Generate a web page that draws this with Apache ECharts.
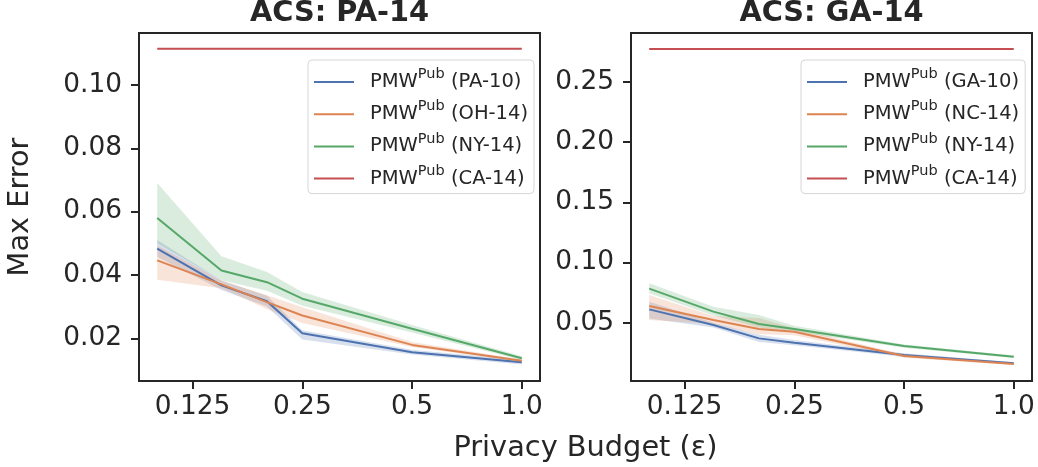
<!DOCTYPE html>
<html><head><meta charset="utf-8">
<script src="https://cdn.jsdelivr.net/npm/echarts@6/dist/echarts.min.js"></script>
<style>html,body{margin:0;padding:0;background:#fff}#c{width:1038px;height:467px}</style>
</head><body><div id="c"></div>
<script>
// ---- data ----
const epsilons = [0.1, 0.15, 0.2, 0.25, 0.5, 1.0];
const xTicks = [0.125, 0.25, 0.5, 1.0];
const xTickLabels = ['0.125', '0.25', '0.5', '1.0'];
const leftYTicks = [0.02, 0.04, 0.06, 0.08, 0.10];
const leftYTickLabels = ['0.02', '0.04', '0.06', '0.08', '0.10'];
const rightYTicks = [0.05, 0.10, 0.15, 0.20, 0.25];
const rightYTickLabels = ['0.05', '0.10', '0.15', '0.20', '0.25'];
const panelTitles = ['ACS: PA-14', 'ACS: GA-14'];
const leftNames = ['PA-10', 'OH-14', 'NY-14', 'CA-14'];
const rightNames = ['GA-10', 'NC-14', 'NY-14', 'CA-14'];
const xLabel = 'Privacy Budget (ε)';
const yLabel = 'Max Error';

// left panel (ACS: PA-14)
const pa10 = [0.0483, 0.0367, 0.0317, 0.0216, 0.0156, 0.0124];
const pa10Lo = [0.0457, 0.0352, 0.0300, 0.0196, 0.0149, 0.0117];
const pa10Hi = [0.0510, 0.0382, 0.0334, 0.0225, 0.0164, 0.0131];
const oh14 = [0.0446, 0.0370, 0.0314, 0.0272, 0.0179, 0.0129];
const oh14Lo = [0.0385, 0.0358, 0.0292, 0.0248, 0.0172, 0.0125];
const oh14Hi = [0.0493, 0.0382, 0.0336, 0.0298, 0.0188, 0.0133];
const nyL = [0.0580, 0.0414, 0.0377, 0.0325, 0.0230, 0.0137];
const nyLLo = [0.0500, 0.0383, 0.0350, 0.0303, 0.0218, 0.0131];
const nyLHi = [0.0690, 0.0459, 0.0409, 0.0346, 0.0242, 0.0143];
const caL = [0.1114, 0.1114, 0.1114, 0.1114, 0.1114, 0.1114];

// right panel (ACS: GA-14)
const ga10 = [0.0611, 0.0481, 0.0370, 0.0334, 0.0232, 0.0163];
const ga10Lo = [0.0536, 0.0460, 0.0340, 0.0312, 0.0218, 0.0155];
const ga10Hi = [0.0674, 0.0500, 0.0400, 0.0356, 0.0246, 0.0171];
const nc14 = [0.0639, 0.0522, 0.0448, 0.0425, 0.0223, 0.0157];
const nc14Lo = [0.0522, 0.0490, 0.0405, 0.0395, 0.0210, 0.0150];
const nc14Hi = [0.0730, 0.0555, 0.0540, 0.0455, 0.0236, 0.0164];
const nyR = [0.0783, 0.0592, 0.0489, 0.0448, 0.0306, 0.0218];
const nyRLo = [0.0744, 0.0560, 0.0460, 0.0425, 0.0292, 0.0208];
const nyRHi = [0.0827, 0.0633, 0.0564, 0.0475, 0.0320, 0.0228];
const caR = [0.2773, 0.2773, 0.2773, 0.2773, 0.2773, 0.2773];

// ---- styling ----
const colors = ['#4C72B0', '#DD8452', '#55A868', '#C44E52'];
const FONT = 'DejaVu Sans';
const INK = '#262626';
function rgba(hex, a) {
  const n = parseInt(hex.slice(1), 16);
  return `rgba(${(n >> 16) & 255},${(n >> 8) & 255},${n & 255},${a})`;
}
const xs = epsilons.map(e => Math.log2(e));
const xMin = Math.log2(0.1) - 0.05 * Math.log2(10);
const xMax = Math.log2(1.0) + 0.05 * Math.log2(10);

const grids = [
  { left: 139, top: 33, width: 401, height: 348 },
  { left: 631, top: 33, width: 401, height: 348 }
];
const yRanges = [[0.0065, 0.1164], [0.0016, 0.2906]];
const yTickSets = [[leftYTicks, leftYTickLabels], [rightYTicks, rightYTickLabels]];

function xAxisFor(i) {
  return {
    type: 'value', gridIndex: i, min: xMin, max: xMax,
    axisLine: { show: false, onZero: false },
    splitLine: { show: false },
    axisTick: { show: true, length: 8, lineStyle: { color: INK, width: 2 }, customValues: xTicks.map(v => Math.log2(v)) },
    axisLabel: {
      customValues: xTicks.map(v => Math.log2(v)),
      formatter: v => { const k = xTicks.findIndex(t => Math.abs(Math.log2(t) - v) < 1e-6); return k >= 0 ? xTickLabels[k] : ''; },
      fontFamily: FONT, fontSize: 26.4, color: INK, margin: 13
    }
  };
}
function yAxisFor(i) {
  const [ticks, labels] = yTickSets[i];
  return {
    type: 'value', gridIndex: i, min: yRanges[i][0], max: yRanges[i][1],
    axisLine: { show: false, onZero: false },
    splitLine: { show: false },
    axisTick: { show: true, length: 8, lineStyle: { color: INK, width: 2 }, customValues: ticks },
    axisLabel: {
      customValues: ticks,
      formatter: v => { const k = ticks.findIndex(t => Math.abs(t - v) < 1e-9); return k >= 0 ? labels[k] : ''; },
      fontFamily: FONT, fontSize: 26.4, color: INK, margin: 17
    }
  };
}

const series = [];
function addPanel(idx, names, lines, los, his) {
  names.forEach((nm, i) => {
    const col = colors[i];
    if (los[i]) {
      const lo = los[i], hi = his[i];
      series.push({
        type: 'custom', xAxisIndex: idx, yAxisIndex: idx, silent: true, z: 1,
        data: xs.map((x, k) => [x, lo[k], hi[k]]),
        encode: { x: 0, y: [1, 2] },
        renderItem: (params, api) => {
          if (params.dataIndex !== 0) return null;
          const pts = [];
          for (let k = 0; k < xs.length; k++) pts.push(api.coord([xs[k], hi[k]]));
          for (let k = xs.length - 1; k >= 0; k--) pts.push(api.coord([xs[k], lo[k]]));
          return { type: 'polygon', shape: { points: pts }, style: { fill: rgba(col, 0.22), stroke: null } };
        }
      });
    }
    series.push({
      name: (idx ? 'R:' : 'L:') + nm, type: 'line', xAxisIndex: idx, yAxisIndex: idx,
      data: xs.map((x, k) => [x, lines[i][k]]),
      symbol: 'none', showSymbol: false, z: 3,
      lineStyle: { color: col, width: 2 }, itemStyle: { color: col }
    });
  });
}
addPanel(0, leftNames, [pa10, oh14, nyL, caL], [pa10Lo, oh14Lo, nyLLo, null], [pa10Hi, oh14Hi, nyLHi, null]);
addPanel(1, rightNames, [ga10, nc14, nyR, caR], [ga10Lo, nc14Lo, nyRLo, null], [ga10Hi, nc14Hi, nyRHi, null]);

function legendFor(idx, names, left) {
  return {
    data: names.map(n => (idx ? 'R:' : 'L:') + n),
    orient: 'vertical', left: left, top: 60,
    icon: 'rect',
    itemWidth: 40, itemHeight: 2, itemGap: 7.2,
    padding: [7, 6, 5, 6],
    backgroundColor: 'rgba(255,255,255,0.8)',
    borderColor: '#d6d6d6', borderWidth: 1, borderRadius: 4,
    selectedMode: false,
    formatter: name => `{n|PMW}{s|Pub}{n| (${name.slice(2)})}`,
    textStyle: {
      padding: [0, 0, 0, 11],
      rich: {
        n: { fontFamily: FONT, fontSize: 19.5, color: INK, lineHeight: 30 },
        s: { fontFamily: FONT, fontSize: 14.5, color: INK, lineHeight: 14, verticalAlign: 'top' }
      }
    }
  };
}

const option = {
  animation: false,
  backgroundColor: '#ffffff',
  grid: grids.map(g => Object.assign({ show: true, borderColor: INK, borderWidth: 2, backgroundColor: 'transparent' }, g)),
  xAxis: [xAxisFor(0), xAxisFor(1)],
  yAxis: [yAxisFor(0), yAxisFor(1)],
  legend: [legendFor(0, leftNames, 308), legendFor(1, rightNames, 801)],
  series: series,
  graphic: [
    { type: 'text', x: 339.5, y: 14, style: { text: panelTitles[0], font: `bold 28.8px "${FONT}"`, fill: INK, textAlign: 'center', textVerticalAlign: 'middle' } },
    { type: 'text', x: 831.5, y: 14, style: { text: panelTitles[1], font: `bold 28.8px "${FONT}"`, fill: INK, textAlign: 'center', textVerticalAlign: 'middle' } },
    { type: 'text', x: 585.5, y: 449, style: { text: xLabel, font: `28.8px "${FONT}"`, fill: INK, textAlign: 'center', textVerticalAlign: 'middle' } },
    { type: 'text', x: 21, y: 207, rotation: Math.PI / 2, style: { text: yLabel, font: `28.8px "${FONT}"`, fill: INK, textAlign: 'center', textVerticalAlign: 'middle' } }
  ]
};
const chart = echarts.init(document.getElementById('c'), null, { renderer: 'canvas' });
chart.setOption(option);
</script>
</body></html>
